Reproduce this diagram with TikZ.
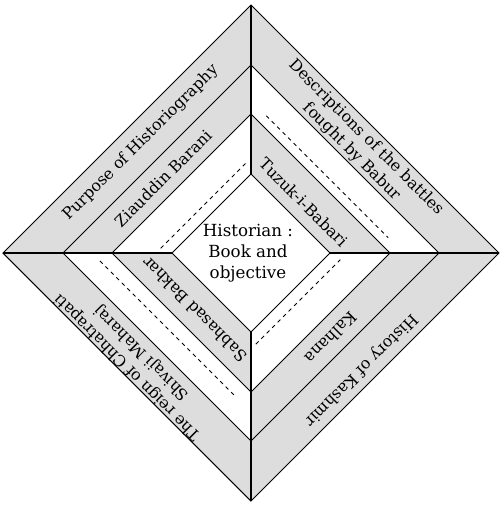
\documentclass[tikz,border=0pt]{standalone}
\usepackage{fontspec}
\setmainfont{DejaVu Serif}
\usetikzlibrary{calc}
\begin{document}
\begin{tikzpicture}
\tikzset{bande/.style={fill=gray!27}, trait/.style={line width=0.6pt}, pointille/.style={line width=0.5pt, dash pattern=on 2.2pt off 2.2pt}, etiquette/.style={font=\fontsize{9}{11.5}\selectfont, align=center, inner sep=0pt}}
\useasboundingbox (-5.02,-5.04) rectangle (5.06,5.06);
% sommets des quatre losanges
\foreach \n/\r in {1/4.96, 2/3.76, 3/2.78, 4/1.58} {
  \coordinate (T\n) at (90:\r);
  \coordinate (R\n) at (0:\r);
  \coordinate (B\n) at (270:\r);
  \coordinate (L\n) at (180:\r);
}
\fill[bande, even odd rule] (T1) -- (R1) -- (B1) -- (L1) -- cycle (T2) -- (R2) -- (B2) -- (L2) -- cycle;
\fill[bande] (L2) -- (T2) -- (T3) -- (L3) -- cycle;
\fill[bande] (R2) -- (B2) -- (B3) -- (R3) -- cycle;
\fill[bande] (T3) -- (R3) -- (R4) -- (T4) -- cycle;
\fill[bande] (B3) -- (L3) -- (L4) -- (B4) -- cycle;
\foreach \n in {1,...,4} \draw[trait] (T\n) -- (R\n) -- (B\n) -- (L\n) -- cycle;
\draw[trait] (T1) -- (T4) (R1) -- (R4) (B1) -- (B4) (L1) -- (L4);
% lignes pour ecrire
\draw[pointille] ($(90:3.05)!0.1!(0:3.05)$) -- ($(90:3.05)!0.9!(0:3.05)$);
\draw[pointille] ($(180:3.18)!0.05!(270:3.18)$) -- ($(180:3.18)!0.9!(270:3.18)$);
\draw[pointille] ($(180:1.9)!0.05!(90:1.9)$) -- ($(180:1.9)!0.97!(90:1.9)$);
\draw[pointille] ($(270:1.92)!0.05!(0:1.92)$) -- ($(270:1.92)!0.93!(0:1.92)$);
\node[etiquette, rotate=45] (purpose) at (135:3.12) {Purpose of Historiography};
\node[etiquette, rotate=-45] (babur) at (45:3.06) {Descriptions of the battles\\fought by Babur};
\node[etiquette, rotate=225] (kashmir) at (-46.8:3.21) {History of Kashmir};
\node[etiquette, rotate=135] (shivaji) at (222.7:3.16) {The reign of Chhatrapati\\Shivaji Maharaj};
\node[etiquette, rotate=45] (barani) at (139.6:2.31) {Ziauddin Barani};
\node[etiquette, rotate=-45] (tuzuk) at (43.9:1.47) {Tuzuk-i-Babari};
\node[etiquette, rotate=135] (bakhar) at (225:1.6) {Sabhasad Bakhar};
\node[etiquette, rotate=225] (kalhana) at (-46.7:2.33) {Kalhana};
\node[etiquette, font=\fontsize{9.5}{12}\selectfont] (centre) at (-0.06,0) {Historian :\\Book and\\objective};
\end{tikzpicture}
\end{document}
